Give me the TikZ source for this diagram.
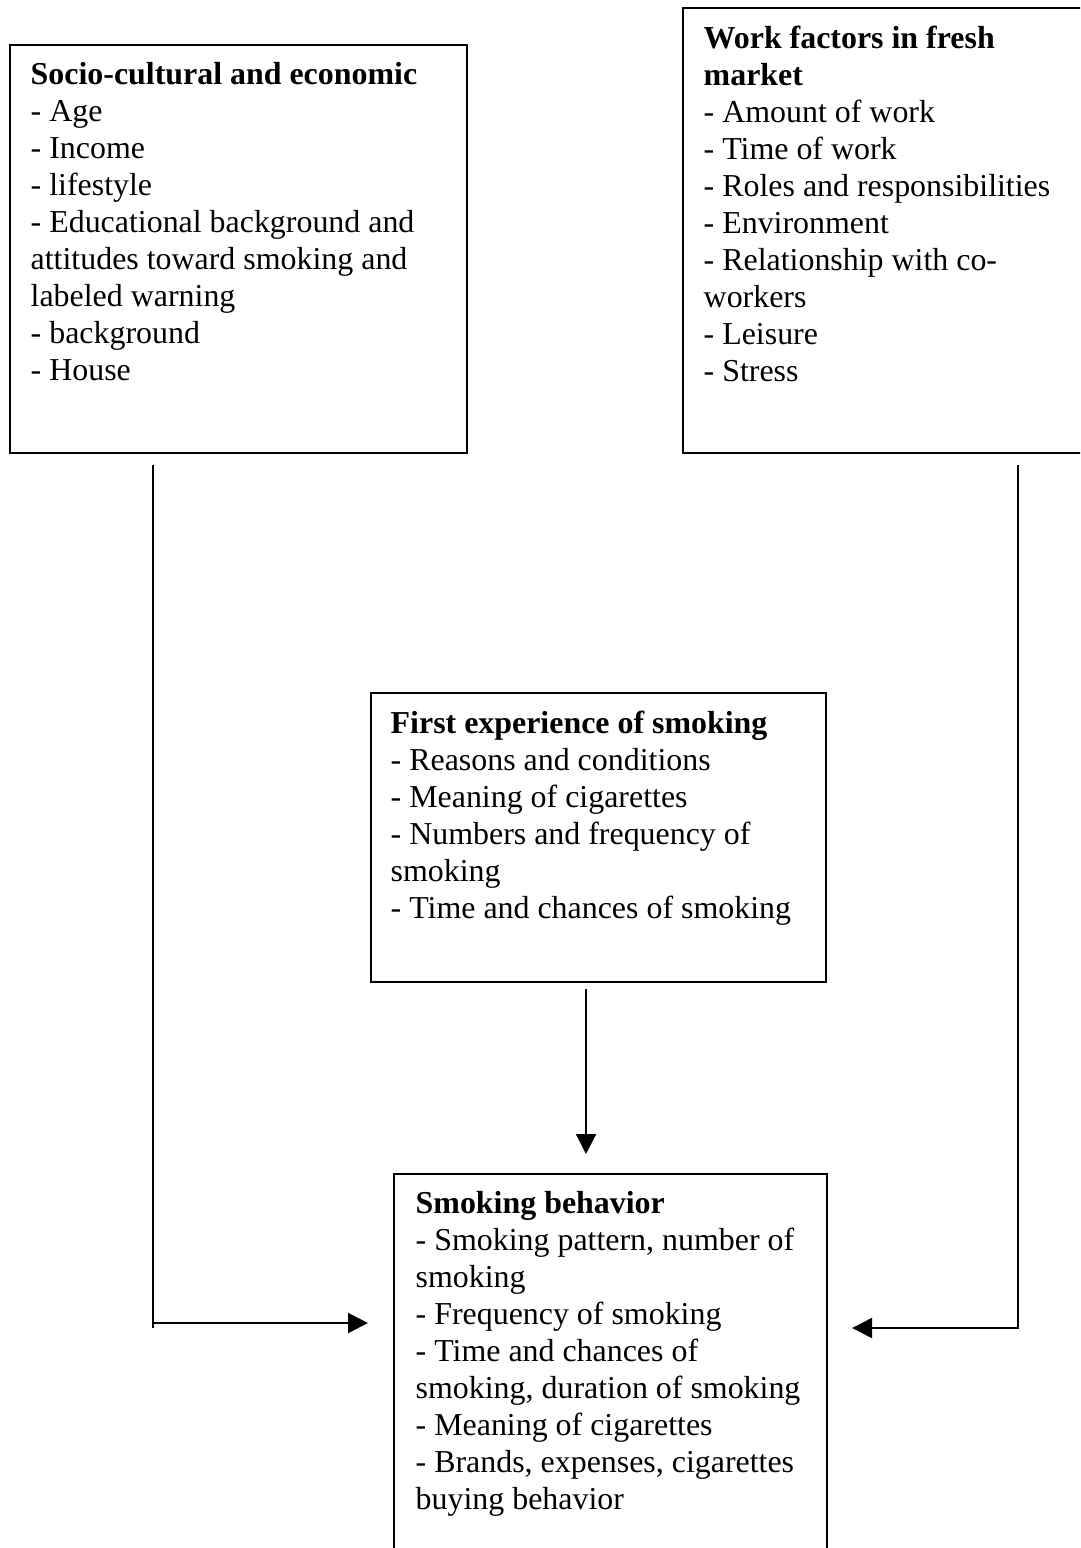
\documentclass[tikz,border=0pt]{standalone}
\usepackage{fontspec}
\setmainfont{Liberation Serif}
\usetikzlibrary{positioning,arrows.meta}

\begin{document}
\begin{tikzpicture}[
    box/.style={draw, line width=0.6pt, rectangle, inner sep=0pt, anchor=north west},
    txt/.style={inner sep=0pt, align=flush left, font=\fontsize{9.08}{10.53}\selectfont},
    link/.style={line width=0.6pt},
    arr/.style={line width=0.6pt, -{Triangle[length=2mm, width=2mm]}}
]

    % Page area (the right box runs off the page)
    \clip (0, 0) rectangle (10.8, -15.48);

    % Boxes
    \node[box, minimum width=4.57cm, minimum height=4.08cm] (socio) at (0.09, -0.44) {};   % Top left
    \node[box, minimum width=4.60cm, minimum height=4.45cm] (work) at (6.82, -0.07) {};    % Top right
    \node[box, minimum width=4.55cm, minimum height=2.89cm] (first) at (3.70, -6.92) {};   % Middle
    \node[box, minimum width=4.33cm, minimum height=4.10cm] (behav) at (3.93, -11.73) {};  % Bottom

    % Box texts
    \node[txt, text width=4.3cm, below right=0.18cm and 0.21cm of socio.north west] (socio-text) {%
        \textbf{Socio-cultural and economic}\\
        - Age\\
        - Income\\
        - lifestyle\\
        - Educational background and\\
        attitudes toward smoking and\\
        labeled warning\\
        - background\\
        - House};

    \node[txt, text width=3.8cm, below right=0.18cm and 0.21cm of work.north west] (work-text) {%
        \textbf{Work factors in fresh}\\
        \textbf{market}\\
        - Amount of work\\
        - Time of work\\
        - Roles and responsibilities\\
        - Environment\\
        - Relationship with co-\\
        workers\\
        - Leisure\\
        - Stress};

    \node[txt, text width=4.2cm, below right=0.18cm and 0.20cm of first.north west] (first-text) {%
        \textbf{First experience of smoking}\\
        - Reasons and conditions\\
        - Meaning of cigarettes\\
        - Numbers and frequency of\\
        smoking\\
        - Time and chances of smoking};

    \node[txt, text width=4.0cm, below right=0.18cm and 0.22cm of behav.north west] (behav-text) {%
        \textbf{Smoking behavior}\\
        - Smoking pattern, number of\\
        smoking\\
        - Frequency of smoking\\
        - Time and chances of\\
        smoking, duration of smoking\\
        - Meaning of cigarettes\\
        - Brands, expenses, cigarettes\\
        buying behavior};

    % Turning points of the connectors
    \coordinate (socio-turn) at (1.53, -13.23);
    \coordinate (work-turn) at (10.18, -13.28);
    \coordinate (first-down) at (5.86, 0);

    % Left connector
    \draw[link, shorten <=0.11cm] (socio.south -| socio-turn) -- ([yshift=-0.05cm]socio-turn);
    \draw[arr, shorten >=0.25cm] (socio-turn) -- (socio-turn -| behav.west);

    % Right connector
    \draw[arr, shorten <=0.11cm, shorten >=0.24cm] (work.south -| work-turn) -- (work-turn) -- (work-turn -| behav.east);

    % Middle connector
    \draw[arr, shorten <=0.06cm, shorten >=0.19cm] (first.south -| first-down) -- (behav.north -| first-down);

\end{tikzpicture}
\end{document}
